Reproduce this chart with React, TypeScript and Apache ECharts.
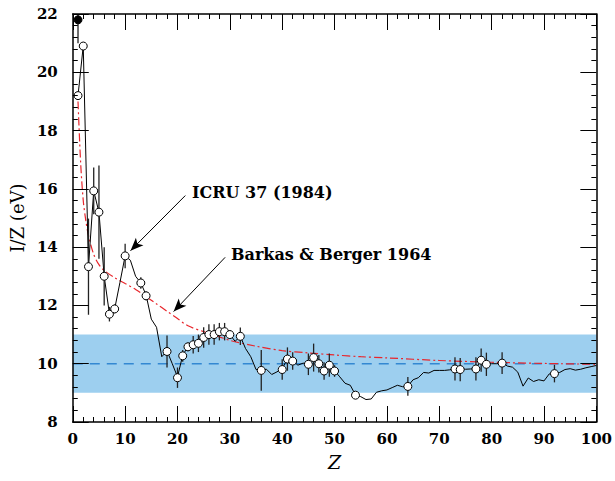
import React, { useEffect, useRef } from "react";
import * as echarts from "echarts";

// ICRU 37 (1984) adopted I/Z (eV) for Z = 1..100
const icruValues = [
  19.2, 20.9, 13.33, 15.93, 15.2, 13.0, 11.71, 11.88, 12.78, 13.7,
  13.55, 13.0, 12.77, 12.36, 11.53, 11.25, 10.24, 10.44, 10.0, 9.55,
  10.29, 10.59, 10.65, 10.71, 10.88, 11.0, 11.0, 11.11, 11.1, 11.0,
  10.77, 10.94, 10.52, 10.24, 9.8, 9.78, 9.81, 9.63, 9.72, 9.83,
  10.17, 10.1, 9.95, 10.02, 9.98, 10.22, 10.0, 9.77, 9.96, 9.76,
  9.55, 9.33, 9.26, 8.93, 8.87, 8.77, 8.79, 9.02, 9.07, 9.1,
  9.18, 9.26, 9.21, 9.23, 9.45, 9.52, 9.7, 9.68, 9.77, 9.77,
  9.77, 9.79, 9.84, 9.82, 9.81, 9.82, 9.83, 10.13, 10.0, 10.0,
  10.0, 10.04, 9.92, 9.88, 9.71, 9.23, 9.51, 9.39, 9.45, 9.41,
  9.65, 9.67, 9.7, 9.8, 9.83, 9.78, 9.81, 9.86, 9.9, 9.94,
];

// Measured points (open circles) with error bars
const measuredZ = [1, 2, 3, 4, 5, 6, 7, 8, 10, 13, 14, 18, 20, 21, 22, 23, 24, 25, 26, 27, 28, 29, 30, 32, 36, 40, 41, 42, 45, 46, 47, 48, 49, 50, 54, 64, 73, 74, 77, 78, 79, 82, 92];
const measuredValues = [19.2, 20.9, 13.33, 15.93, 15.2, 13.0, 11.7, 11.88, 13.7, 12.77, 12.33, 10.42, 9.52, 10.27, 10.58, 10.65, 10.7, 10.9, 11.0, 11.0, 11.1, 11.1, 11.0, 10.94, 9.77, 9.8, 10.16, 10.09, 9.98, 10.21, 10.0, 9.75, 9.95, 9.75, 8.92, 9.22, 9.82, 9.8, 9.82, 10.12, 9.98, 10.02, 9.66];
const measuredErrors = [0, 0, 1.65, 0.8, 1.6, 1.0, 0.25, 0.15, 0.42, 0.2, 0.15, 0.55, 0.35, 0.2, 0.15, 0.3, 0.3, 0.35, 0.35, 0.35, 0.3, 0.3, 0.15, 0.3, 0.7, 0.35, 0.4, 0.3, 0.37, 0.48, 0.3, 0.3, 0.4, 0.2, 0, 0.32, 0.4, 0.4, 0.4, 0.4, 0.4, 0.37, 0.3];

// Liquid hydrogen (filled point)
const filledZ = [1];
const filledValues = [21.8];
const filledErrors = [0.8];

// Barkas & Berger 1964 curve
const barkasZ = [1, 1.5, 2, 2.5, 3, 4, 5, 6, 8, 10, 12, 14, 16, 18, 20, 22, 25, 28, 30, 35, 40, 45, 50, 55, 60, 70, 80, 90, 100];
const barkasValues = [19.0, 16.9, 15.6, 14.9, 14.4, 13.75, 13.4, 13.2, 12.95, 12.75, 12.55, 12.3, 12.05, 11.8, 11.55, 11.3, 11.1, 10.92, 10.8, 10.6, 10.45, 10.37, 10.3, 10.24, 10.2, 10.11, 10.05, 10.01, 9.98];

const bandRange = [9, 11];
const referenceLevel = 10;

const xRange = [0, 100];
const yRange = [8, 22];

const SERIF = "DejaVu Serif";

export default function App() {
  const ref = useRef<HTMLDivElement>(null);

  useEffect(() => {
    if (!ref.current) return;
    const chart = echarts.init(ref.current, null, { renderer: "svg" });

    const icruData = icruValues.map((v, i) => [i + 1, v]);
    const measuredData = measuredZ.map((z, i) => [z, measuredValues[i]]);
    const errData = measuredZ
      .map((z, i) => [z, measuredValues[i] - measuredErrors[i], measuredValues[i] + measuredErrors[i]])
      .filter((d) => d[2] > d[1])
      .concat(filledZ.map((z, i) => [z, filledValues[i] - filledErrors[i], filledValues[i] + filledErrors[i]]));
    const barkasData = barkasZ.map((z, i) => [z, barkasValues[i]]);
    const filledData = filledZ.map((z, i) => [z, filledValues[i]]);

    const axisCommon = {
      type: "value" as const,
      axisLine: { show: true, onZero: false, lineStyle: { color: "#000", width: 1.5 } },
      axisTick: { show: true, inside: true, length: 16, lineStyle: { color: "#000", width: 1 } },
      minorTick: { show: true, splitNumber: 5, length: 5, lineStyle: { color: "#000", width: 1 } },
      splitLine: { show: false },
      z: 10,
    };

    const labelStyle = {
      fontFamily: SERIF,
      fontWeight: "bold" as const,
      fontSize: 15,
      color: "#000",
    };

    chart.setOption({
      animation: false,
      backgroundColor: "#fff",
      grid: { left: 72, right: 17, top: 14, bottom: 59 },
      xAxis: [
        {
          ...axisCommon,
          min: xRange[0],
          max: xRange[1],
          interval: 10,
          position: "bottom",
          axisLabel: { ...labelStyle, margin: 9 },
          name: "Z",
          nameLocation: "middle",
          nameGap: 30,
          nameTextStyle: { fontFamily: SERIF, fontStyle: "italic", fontSize: 19, color: "#000" },
        },
        {
          ...axisCommon,
          min: xRange[0],
          max: xRange[1],
          interval: 10,
          position: "top",
          axisLabel: { show: false },
        },
      ],
      yAxis: [
        {
          ...axisCommon,
          min: yRange[0],
          max: yRange[1],
          interval: 2,
          position: "left",
          axisLabel: { ...labelStyle, margin: 15 },
          name: "I/Z (eV)",
          nameLocation: "middle",
          nameGap: 37,
          nameTextStyle: { fontFamily: SERIF, fontSize: 18, color: "#000" },
        },
        {
          ...axisCommon,
          min: yRange[0],
          max: yRange[1],
          interval: 2,
          position: "right",
          axisLabel: { show: false },
        },
      ],
      series: [
        {
          name: "band",
          type: "line",
          data: [],
          symbol: "none",
          z: 1,
          markArea: {
            silent: true,
            itemStyle: { color: "#9dcfef", opacity: 1 },
            data: [[{ yAxis: bandRange[0] }, { yAxis: bandRange[1] }]],
          },
        },
        {
          name: "reference",
          type: "line",
          data: [
            [xRange[0], referenceLevel],
            [xRange[1], referenceLevel],
          ],
          symbol: "none",
          z: 2,
          lineStyle: { color: "#3388d2", width: 1.5, type: [10, 7] },
        },
        {
          name: "Barkas & Berger 1964",
          type: "line",
          data: barkasData,
          smooth: 0.3,
          symbol: "none",
          z: 3,
          lineStyle: { color: "#e8262c", width: 1.2, type: [8, 3, 2, 3] },
        },
        {
          name: "ICRU 37 (1984)",
          type: "line",
          data: icruData,
          symbol: "none",
          z: 4,
          lineStyle: { color: "#000", width: 1 },
          markLine: {
            silent: true,
            symbol: ["none", "arrow"],
            symbolSize: [8, 13],
            lineStyle: { color: "#000", width: 1, type: "solid" },
            label: { show: false },
            data: [
              [{ coord: [21.5, 15.77] }, { coord: [11.03, 13.88] }],
              [{ coord: [29.1, 13.65] }, { coord: [19.26, 11.79] }],
            ],
          },
        },
        {
          name: "errors",
          type: "custom",
          z: 5,
          clip: true,
          data: errData,
          encode: { x: 0, y: [1, 2] },
          renderItem: (params: any, api: any) => {
            const x = api.value(0);
            const lo = Math.max(api.value(1), yRange[0]);
            const hi = Math.min(api.value(2), yRange[1]);
            const p1 = api.coord([x, lo]);
            const p2 = api.coord([x, hi]);
            return {
              type: "line",
              shape: { x1: p1[0], y1: p1[1], x2: p2[0], y2: p2[1] },
              style: { stroke: "#222", lineWidth: 1.3 },
            };
          },
        },
        {
          name: "measured",
          type: "scatter",
          data: measuredData,
          symbol: "circle",
          symbolSize: 8,
          z: 6,
          itemStyle: { color: "#fff", borderColor: "#000", borderWidth: 1, opacity: 1 },
        },
        {
          name: "liquid H",
          type: "scatter",
          data: filledData,
          symbol: "circle",
          symbolSize: 8,
          z: 6,
          itemStyle: { color: "#000", borderColor: "#000", borderWidth: 1, opacity: 1 },
        },
      ],
      graphic: [
        {
          type: "text",
          left: 192,
          top: 184,
          style: { text: "ICRU 37 (1984)", fontFamily: SERIF, fontWeight: "bold", fontSize: 16, fill: "#000" },
        },
        {
          type: "text",
          left: 231,
          top: 246,
          style: { text: "Barkas & Berger 1964", fontFamily: SERIF, fontWeight: "bold", fontSize: 16, fill: "#000" },
        },
      ],
    });

    return () => chart.dispose();
  }, []);

  return <div ref={ref} style={{ position: "fixed", left: 0, top: 0, width: 615, height: 481 }} />;
}
